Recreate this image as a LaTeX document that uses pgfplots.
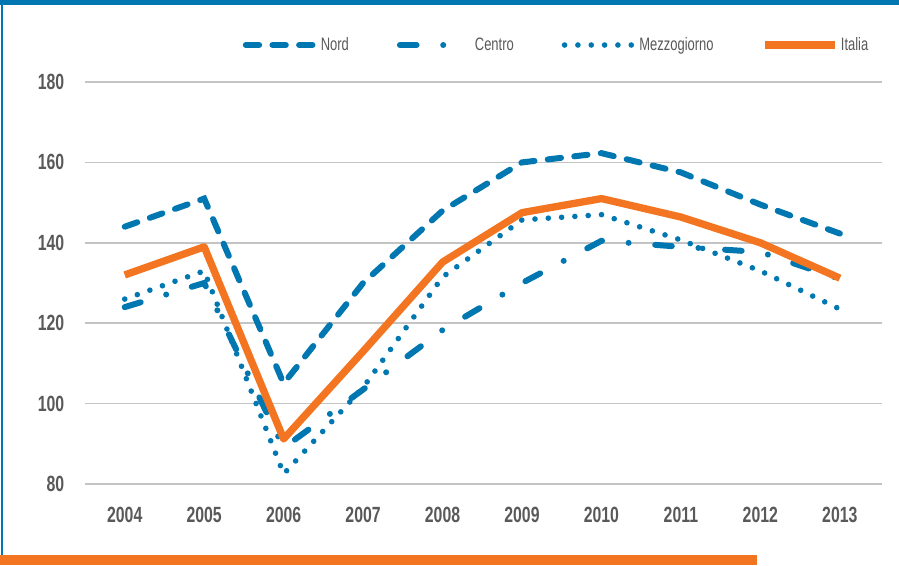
\documentclass[border=0pt]{standalone}
\usepackage{fontspec}
\setmainfont[FakeStretch=0.72]{Liberation Sans}
\usepackage{pgfplots}
\usepackage{pgfplotstable}
\pgfplotsset{compat=1.18}

\definecolor{blu}{HTML}{0077B0}
\definecolor{arancio}{HTML}{F47521}
\definecolor{griglia}{HTML}{C4C4C4}
\definecolor{testo}{HTML}{595959}

% anno  valore (indice)
\pgfplotstableread{
anno val
2004 144
2005 151
2006 105
2007 130
2008 148
2009 160
2010 162.3
2011 157.5
2012 149.5
2013 142.3
}\nord
\pgfplotstableread{
anno val
2004 124
2005 130
2006 89
2007 103.5
2008 118.3
2009 130
2010 140.5
2011 139
2012 137.7
2013 131
}\centro
\pgfplotstableread{
anno val
2004 126
2005 133
2006 82.5
2007 104
2008 131.5
2009 145.7
2010 147
2011 140.7
2012 133
2013 123.5
}\mezzogiorno
\pgfplotstableread{
anno val
2004 132
2005 139
2006 91.2
2007 113
2008 135.2
2009 147.5
2010 151
2011 146.4
2012 140
2013 131.2
}\italia

\begin{document}
\begin{tikzpicture}[x=0.75pt,y=0.75pt]
\useasboundingbox (0,0) rectangle (899,565);
% cornice
\fill[blu] (0,560) rectangle (899,565);
\fill[blu] (0.5,10) rectangle (2.5,565);
\fill[arancio] (0,0) rectangle (757,10);

\begin{axis}[
  at={(63.75pt,60.75pt)}, anchor=south west,
  scale only axis, width=597.75pt, height=301.5pt,
  xmin=2003.5, xmax=2013.53, ymin=80, ymax=180,
  axis line style={draw=none},
  xtick={2004,...,2013}, ytick={80,100,...,180},
  major tick length=0pt,
  ymajorgrids, grid style={griglia, line width=1.2pt},
  /pgf/number format/assume math mode=true,
  /pgf/number format/1000 sep={},
  ticklabel style={font=\fontsize{16.5}{18}\selectfont\bfseries, text=testo},
  yticklabel style={xshift=-12pt},
  xticklabel style={yshift=-14pt},
  legend columns=4,
  legend style={draw=none, fill=none, inner sep=0pt, outer sep=0pt,
    at={(0.198,1.092)}, anchor=west,
    font=\fontsize{13.5}{15}\selectfont, text=testo,
    nodes={inner sep=2pt},
    /tikz/every even column/.append style={column sep=34pt}},
  legend image code/.code={\draw[#1] (0pt,0pt) -- (52pt,0pt);},
  legend cell align=left,
]
\addplot[blu, line width=4.5pt, line cap=round, dash pattern=on 10pt off 10pt] table[x=anno,y=val] {\nord};
\addlegendentry{Nord}
\addplot[blu, line width=4.5pt, line cap=round, dash pattern=on 12.5pt off 20pt on 0pt off 20pt] table[x=anno,y=val] {\centro};
\addlegendentry{Centro}
\addplot[blu, line width=4.2pt, line cap=round, dash pattern=on 0pt off 10pt] table[x=anno,y=val] {\mezzogiorno};
\addlegendentry{Mezzogiorno}
\addplot[arancio, line width=5.5pt, line join=round] table[x=anno,y=val] {\italia};
\addlegendentry{Italia}
\end{axis}
\end{tikzpicture}
\end{document}
